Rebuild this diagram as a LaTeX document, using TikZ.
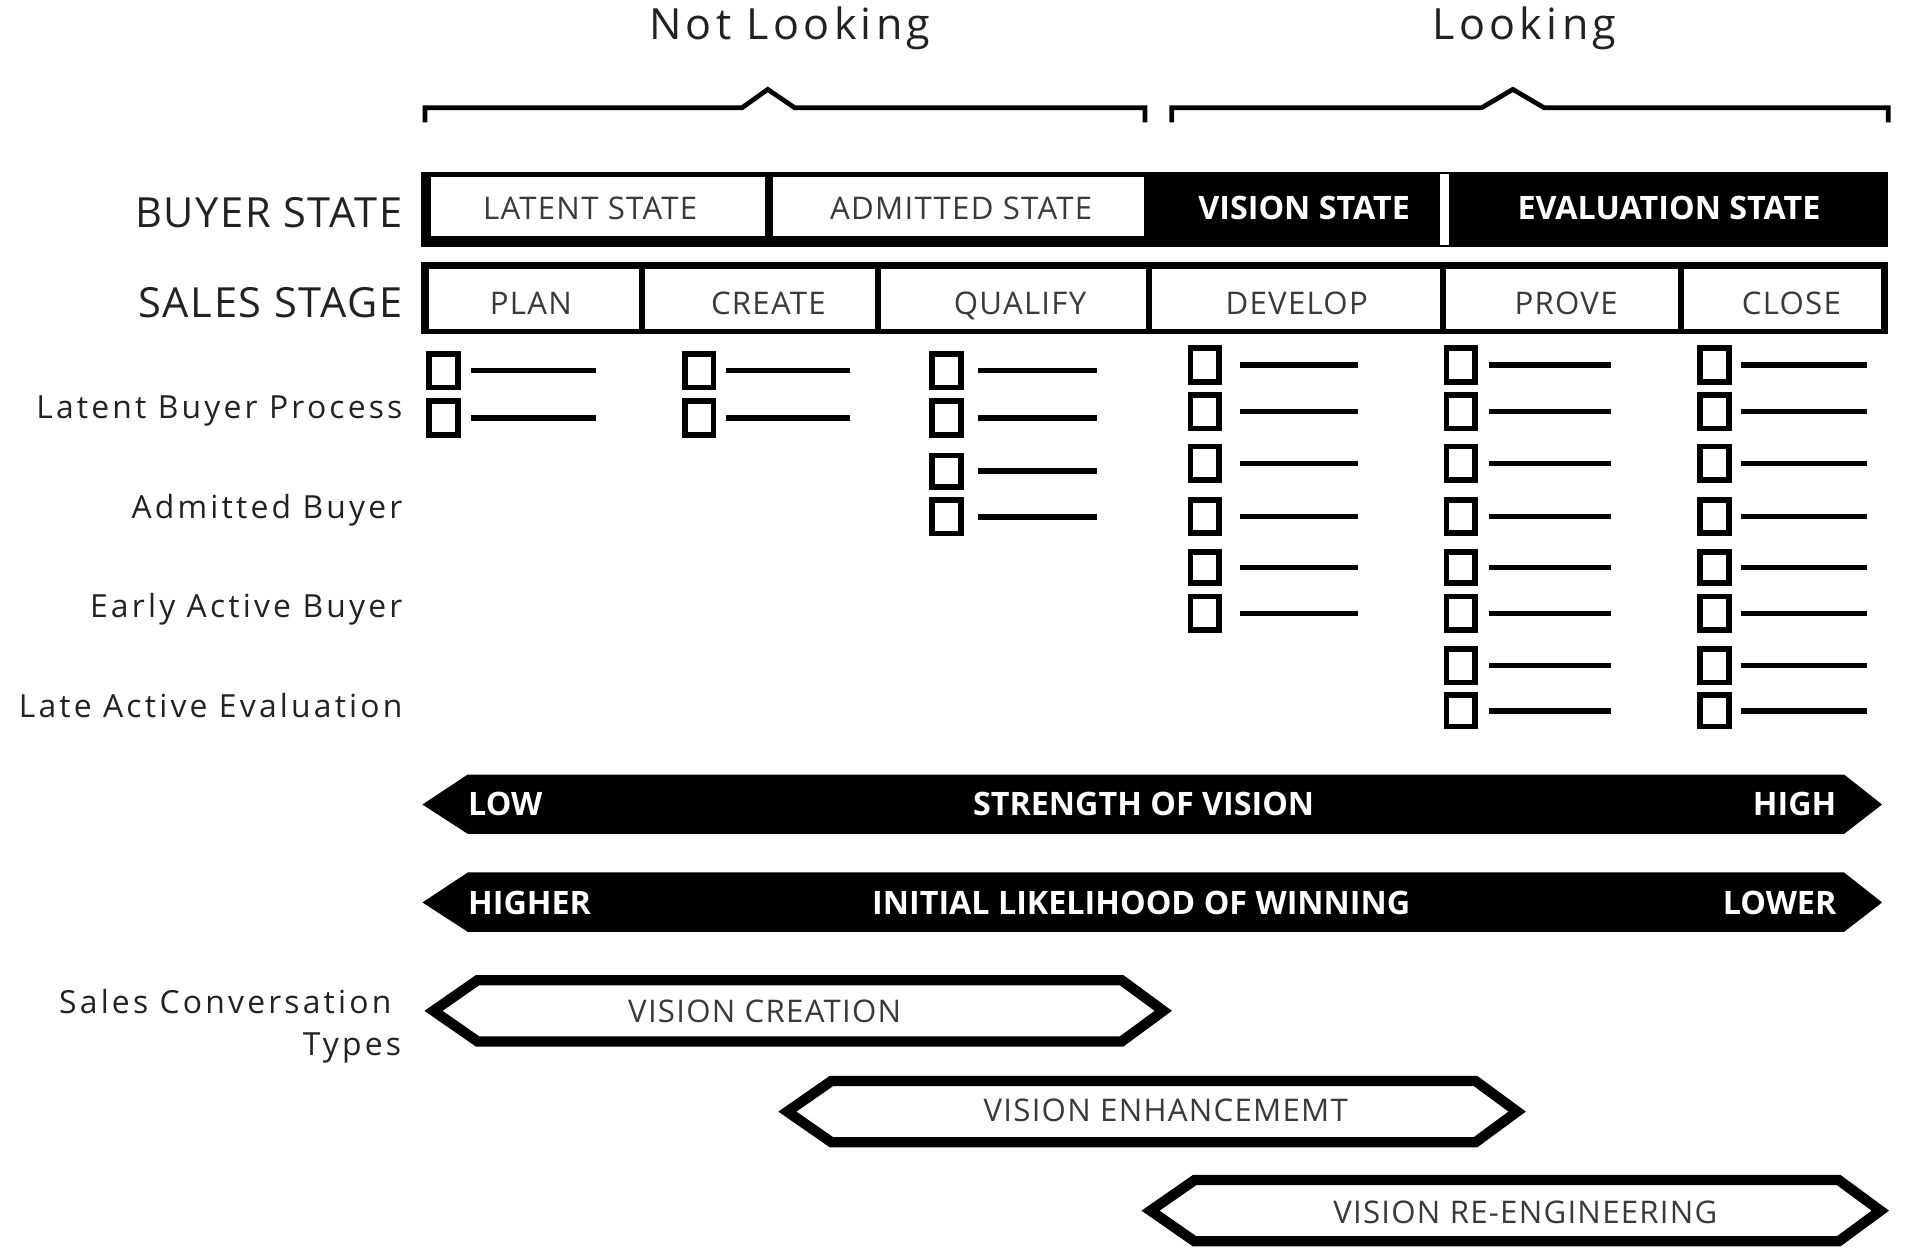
\documentclass[tikz,border=0pt]{standalone}
\usepackage{fontspec}
\setmainfont{Open Sans}
\newfontfamily\labelfont{Open Sans}[LetterSpace=10]
\newfontfamily\headfont{Open Sans}[LetterSpace=4]
\newfontfamily\cellfont{Open Sans}[LetterSpace=4]
\usepackage{tikz}
\definecolor{labelgray}{HTML}{222222}
\definecolor{cellgray}{HTML}{3A3A3A}

\begin{document}
\begin{tikzpicture}[scale=0.2]
		\tikzstyle{every node}+=[inner sep=0pt, anchor=base]
		\tikzstyle{head}=[text=labelgray, font=\labelfont\fontsize{20}{24}\selectfont]
		\tikzstyle{rowhead}=[anchor=base east, text=labelgray, font=\headfont\fontsize{19.3}{23}\selectfont]
		\tikzstyle{side}=[anchor=base east, text=labelgray, font=\labelfont\fontsize{14.8}{17}\selectfont]
		\tikzstyle{cell}=[text=cellgray, font=\cellfont\fontsize{14.5}{17}\selectfont]
		\tikzstyle{cellbold}=[text=white, font=\bfseries\fontsize{15}{18}\selectfont]
		\tikzstyle{brace}=[line width=2.2pt]
		\tikzstyle{chk}=[line width=2.7pt]
		\tikzstyle{bar}=[line width=2.6pt]
		\tikzstyle{hex}=[line width=4.8pt, fill=white]
		\useasboundingbox (0,0) rectangle (156.8,-102.6);
		\draw (64.5,-3.21) node (notlooking) [head] {Not Looking};
		\draw (124.5,-3.21) node (looking) [head] {Looking};
		\draw [brace] (34.7,-10.0) -- (34.7,-8.8) -- (60.6,-8.8) -- (62.7,-7.3) -- (64.9,-8.8) -- (93.5,-8.8) -- (93.5,-10.0);
		\draw [brace] (95.7,-10.0) -- (95.7,-8.8) -- (121.0,-8.8) -- (123.55,-7.3) -- (126.1,-8.8) -- (154.2,-8.8) -- (154.2,-10.0);
		\draw (32.9,-18.6) node (buyerstate) [rowhead] {BUYER STATE};
		\draw (32.9,-25.9) node (salesstage) [rowhead] {SALES STAGE};
		\fill [black] (34.4,-14.05) rectangle (154.2,-20.15);
		\fill [white] (35.2,-14.45) rectangle (62.5,-19.3);
		\fill [white] (63.1,-14.45) rectangle (93.4,-19.3);
		\fill [white] (117.6,-14.2) rectangle (118.3,-20.0);
		\draw (48.2,-17.9) node (latentstate) [cell] {LATENT STATE};
		\draw (78.5,-17.9) node (admittedstate) [cell] {ADMITTED STATE};
		\draw (106.5,-17.9) node (visionstate) [cellbold] {VISION STATE};
		\draw (136.3,-17.9) node (evaluationstate) [cellbold] {EVALUATION STATE};
		\fill [black] (34.4,-21.4) rectangle (154.2,-27.25);
		\fill [white] (35.0,-21.95) rectangle (52.2,-26.85);
		\fill [white] (52.7,-21.95) rectangle (71.45,-26.85);
		\fill [white] (71.95,-21.95) rectangle (93.55,-26.85);
		\fill [white] (94.05,-21.95) rectangle (117.6,-26.85);
		\fill [white] (118.1,-21.95) rectangle (137.05,-26.85);
		\fill [white] (137.55,-21.95) rectangle (153.6,-26.85);
		\draw (43.35,-25.7) node (plan) [cell] {PLAN};
		\draw (62.75,-25.7) node (create) [cell] {CREATE};
		\draw (83.3,-25.7) node (qualify) [cell] {QUALIFY};
		\draw (105.9,-25.7) node (develop) [cell] {DEVELOP};
		\draw (127.9,-25.7) node (prove) [cell] {PROVE};
		\draw (146.3,-25.7) node (close) [cell] {CLOSE};
		\draw (32.9,-34.2) node (latentbuyer) [side] {Latent Buyer Process};
		\draw (32.9,-42.35) node (admittedbuyer) [side] {Admitted Buyer};
		\draw (32.9,-50.45) node (earlyactive) [side] {Early Active Buyer};
		\draw (32.9,-58.6) node (lateactive) [side] {Late Active Evaluation};
		\draw [chk] (35.03,-28.9) rectangle (37.37,-31.64); \draw [bar] (38.5,-30.27) -- (48.7,-30.27);
		\draw [chk] (35.03,-32.78) rectangle (37.37,-35.52); \draw [bar] (38.5,-34.15) -- (48.7,-34.15);
		\draw [chk] (55.93,-28.9) rectangle (58.27,-31.64); \draw [bar] (59.3,-30.27) -- (69.4,-30.27);
		\draw [chk] (55.93,-32.78) rectangle (58.27,-35.52); \draw [bar] (59.3,-34.15) -- (69.4,-34.15);
		\draw [chk] (76.13,-28.9) rectangle (78.47,-31.64); \draw [bar] (79.9,-30.27) -- (89.6,-30.27);
		\draw [chk] (76.13,-32.78) rectangle (78.47,-35.52); \draw [bar] (79.9,-34.15) -- (89.6,-34.15);
		\draw [chk] (76.13,-37.2) rectangle (78.47,-39.74); \draw [bar] (79.9,-38.47) -- (89.6,-38.47);
		\draw [chk] (76.13,-40.83) rectangle (78.47,-43.57); \draw [bar] (79.9,-42.2) -- (89.6,-42.2);
		\draw [chk] (97.23,-28.43) rectangle (99.57,-31.17); \draw [bar] (101.3,-29.8) -- (110.9,-29.8);
		\draw [chk] (97.23,-32.25) rectangle (99.57,-34.99); \draw [bar] (101.3,-33.62) -- (110.9,-33.62);
		\draw [chk] (97.23,-36.47) rectangle (99.57,-39.21); \draw [bar] (101.3,-37.84) -- (110.9,-37.84);
		\draw [chk] (97.23,-40.82) rectangle (99.57,-43.56); \draw [bar] (101.3,-42.19) -- (110.9,-42.19);
		\draw [chk] (97.23,-45.09) rectangle (99.57,-47.63); \draw [bar] (101.3,-46.36) -- (110.9,-46.36);
		\draw [chk] (97.23,-48.72) rectangle (99.57,-51.46); \draw [bar] (101.3,-50.09) -- (110.9,-50.09);
		\draw [chk] (118.13,-28.43) rectangle (120.47,-31.17); \draw [bar] (121.6,-29.8) -- (131.6,-29.8);
		\draw [chk] (118.13,-32.25) rectangle (120.47,-34.99); \draw [bar] (121.6,-33.62) -- (131.6,-33.62);
		\draw [chk] (118.13,-36.47) rectangle (120.47,-39.21); \draw [bar] (121.6,-37.84) -- (131.6,-37.84);
		\draw [chk] (118.13,-40.82) rectangle (120.47,-43.56); \draw [bar] (121.6,-42.19) -- (131.6,-42.19);
		\draw [chk] (118.13,-45.09) rectangle (120.47,-47.63); \draw [bar] (121.6,-46.36) -- (131.6,-46.36);
		\draw [chk] (118.13,-48.72) rectangle (120.47,-51.46); \draw [bar] (121.6,-50.09) -- (131.6,-50.09);
		\draw [chk] (118.13,-52.99) rectangle (120.47,-55.73); \draw [bar] (121.6,-54.36) -- (131.6,-54.36);
		\draw [chk] (118.13,-56.79) rectangle (120.47,-59.33); \draw [bar] (121.6,-58.06) -- (131.6,-58.06);
		\draw [chk] (138.83,-28.43) rectangle (141.17,-31.17); \draw [bar] (142.2,-29.8) -- (152.5,-29.8);
		\draw [chk] (138.83,-32.25) rectangle (141.17,-34.99); \draw [bar] (142.2,-33.62) -- (152.5,-33.62);
		\draw [chk] (138.83,-36.47) rectangle (141.17,-39.21); \draw [bar] (142.2,-37.84) -- (152.5,-37.84);
		\draw [chk] (138.83,-40.82) rectangle (141.17,-43.56); \draw [bar] (142.2,-42.19) -- (152.5,-42.19);
		\draw [chk] (138.83,-45.09) rectangle (141.17,-47.63); \draw [bar] (142.2,-46.36) -- (152.5,-46.36);
		\draw [chk] (138.83,-48.72) rectangle (141.17,-51.46); \draw [bar] (142.2,-50.09) -- (152.5,-50.09);
		\draw [chk] (138.83,-52.99) rectangle (141.17,-55.73); \draw [bar] (142.2,-54.36) -- (152.5,-54.36);
		\draw [chk] (138.83,-56.79) rectangle (141.17,-59.33); \draw [bar] (142.2,-58.06) -- (152.5,-58.06);
		\fill [black] (34.5,-65.7) -- (38.2,-63.25) -- (150.6,-63.25) -- (153.7,-65.7) -- (150.6,-68.1) -- (38.2,-68.1) -- cycle;
		\draw (38.2,-66.6) node (low) [cellbold, anchor=base west] {LOW};
		\draw (93.4,-66.6) node (strength) [cellbold] {STRENGTH OF VISION};
		\draw (150.0,-66.6) node (high) [cellbold, anchor=base east] {HIGH};
		\fill [black] (34.5,-73.7) -- (38.2,-71.25) -- (150.6,-71.25) -- (153.7,-73.7) -- (150.6,-76.1) -- (38.2,-76.1) -- cycle;
		\draw (38.2,-74.7) node (higher) [cellbold, anchor=base west] {HIGHER};
		\draw (93.2,-74.7) node (likelihood) [cellbold] {INITIAL LIKELIHOOD OF WINNING};
		\draw (150.0,-74.7) node (lower) [cellbold, anchor=base east] {LOWER};
		\draw (32.0,-82.75) node (salesconv) [side] {Sales Conversation};
		\draw (32.8,-86.2) node (types) [side] {Types};
		\draw [hex] (35.4,-82.55) -- (39.0,-80.05) -- (91.6,-80.05) -- (95.0,-82.55) -- (91.6,-85.05) -- (39.0,-85.05) -- cycle;
		\draw (62.45,-83.5) node (creation) [cell] {VISION CREATION};
		\draw [hex] (64.3,-90.78) -- (67.9,-88.28) -- (120.5,-88.28) -- (123.9,-90.78) -- (120.5,-93.28) -- (67.9,-93.28) -- cycle;
		\draw (95.2,-91.6) node (enhancement) [cell] {VISION ENHANCEMEMT};
		\draw [hex] (93.96,-98.87) -- (97.56,-96.37) -- (150.16,-96.37) -- (153.56,-98.87) -- (150.16,-101.37) -- (97.56,-101.37) -- cycle;
		\draw (124.57,-99.9) node (reengineering) [cell] {VISION RE-ENGINEERING};
	\end{tikzpicture}
\end{document}
